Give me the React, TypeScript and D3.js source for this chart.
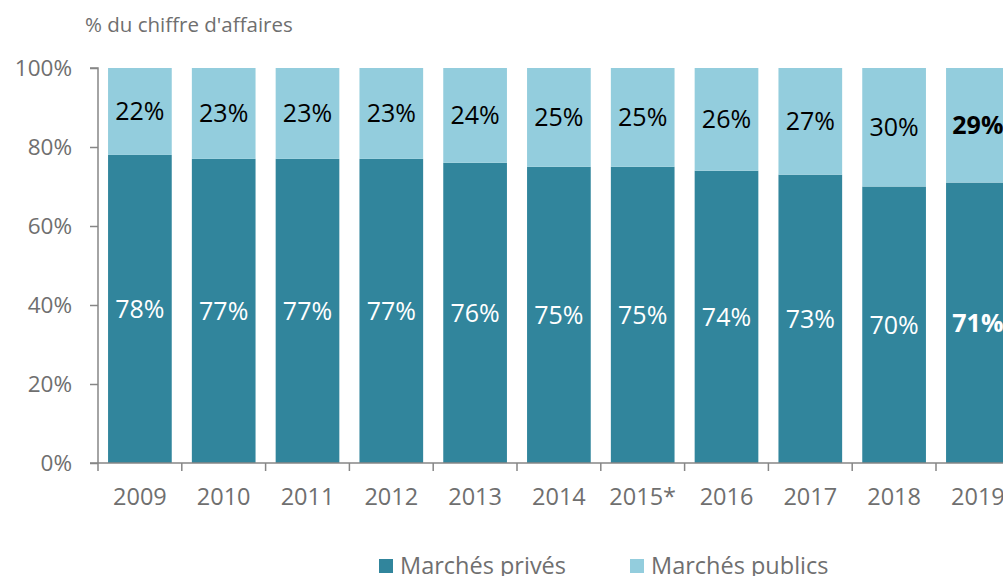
import { axisLeft, scaleBand, scaleLinear, select } from "d3";
import React, { useEffect, useRef } from "react";

const years = ["2009", "2010", "2011", "2012", "2013", "2014", "2015*", "2016", "2017", "2018", "2019"];
const prives = [78, 77, 77, 77, 76, 75, 75, 74, 73, 70, 71];
const publics = [22, 23, 23, 23, 24, 25, 25, 26, 27, 30, 29];
const yTicks = [0, 20, 40, 60, 80, 100];

const DARK = "#31859c";
const LIGHT = "#93cddd";
const GREY = "#6f6f6f";
const FONT = "'Open Sans', sans-serif";

function App() {
  const svgRef = useRef<SVGSVGElement>(null);

  useEffect(() => {
    document.body.style.margin = "0";
    const svg = select(svgRef.current);
    svg.selectAll("*").remove();

    const left = 98;
    const top = 68;
    const bottom = 463;

    const xScale = scaleBand<string>()
      .domain(years)
      .range([left, left + 83.8 * years.length])
      .paddingInner(0.24)
      .paddingOuter(0.12);
    const step = xScale.step();

    const yScale = scaleLinear().domain([0, 100]).range([bottom, top]);

    // title
    svg
      .append("text")
      .attr("x", 85)
      .attr("y", 32)
      .attr("font-family", FONT)
      .attr("font-size", 20.5)
      .attr("fill", GREY)
      .text("% du chiffre d'affaires");

    const content = svg.append("g");

    // stacked bars
    content
      .selectAll(".bar-prive")
      .data(years)
      .join("rect")
      .attr("x", (d) => xScale(d)!)
      .attr("width", xScale.bandwidth())
      .attr("y", (_, i) => yScale(prives[i]))
      .attr("height", (_, i) => bottom - yScale(prives[i]))
      .attr("fill", DARK);

    content
      .selectAll(".bar-public")
      .data(years)
      .join("rect")
      .attr("x", (d) => xScale(d)!)
      .attr("width", xScale.bandwidth())
      .attr("y", (_, i) => yScale(prives[i] + publics[i]))
      .attr("height", (_, i) => yScale(prives[i]) - yScale(prives[i] + publics[i]))
      .attr("fill", LIGHT);

    // value labels
    const last = years.length - 1;
    content
      .selectAll(".lbl-prive")
      .data(years)
      .join("text")
      .attr("x", (d) => xScale(d)! + xScale.bandwidth() / 2)
      .attr("y", (_, i) => (yScale(0) + yScale(prives[i])) / 2)
      .attr("dy", "0.36em")
      .attr("text-anchor", "middle")
      .attr("font-family", FONT)
      .attr("font-size", 25)
      .attr("font-weight", (_, i) => (i === last ? "bold" : "normal"))
      .attr("fill", "#ffffff")
      .text((_, i) => `${prives[i]}%`);

    content
      .selectAll(".lbl-public")
      .data(years)
      .join("text")
      .attr("x", (d) => xScale(d)! + xScale.bandwidth() / 2)
      .attr("y", (_, i) => (yScale(prives[i]) + yScale(prives[i] + publics[i])) / 2)
      .attr("dy", "0.36em")
      .attr("text-anchor", "middle")
      .attr("font-family", FONT)
      .attr("font-size", 25)
      .attr("font-weight", (_, i) => (i === last ? "bold" : "normal"))
      .attr("fill", "#000000")
      .text((_, i) => `${publics[i]}%`);

    // y axis
    const yAxis = axisLeft(yScale)
      .tickValues(yTicks)
      .tickSize(8)
      .tickPadding(18)
      .tickFormat((d) => `${d}%`);
    const yg = svg.append("g").attr("transform", `translate(${left},0)`).call(yAxis);
    yg.select(".domain").attr("stroke", "#868686").attr("stroke-width", 1.5).attr("d", `M-8,${top}H0V${bottom}`);
    yg.selectAll(".tick line").attr("stroke", "#868686").attr("stroke-width", 1.5);
    yg.selectAll(".tick text")
      .attr("font-family", FONT)
      .attr("font-size", 22.5)
      .attr("fill", GREY);

    // x axis
    const xg = svg.append("g");
    xg.append("line")
      .attr("x1", left - 8)
      .attr("x2", left + step * years.length)
      .attr("y1", bottom)
      .attr("y2", bottom)
      .attr("stroke", "#868686")
      .attr("stroke-width", 1.5);
    xg.selectAll(".xtick")
      .data(years)
      .join("line")
      .attr("x1", (d) => xScale(d)! - xScale.paddingOuter() * step)
      .attr("x2", (d) => xScale(d)! - xScale.paddingOuter() * step)
      .attr("y1", bottom)
      .attr("y2", bottom + 8)
      .attr("stroke", "#868686")
      .attr("stroke-width", 1.5);
    xg.selectAll(".xlabel")
      .data(years)
      .join("text")
      .attr("x", (d) => xScale(d)! + xScale.bandwidth() / 2)
      .attr("y", 505)
      .attr("text-anchor", "middle")
      .attr("font-family", FONT)
      .attr("font-size", 23.5)
      .attr("fill", GREY)
      .text((d) => d);

    // legend
    const legend = [
      { name: "Marchés privés", color: DARK, x: 379 },
      { name: "Marchés publics", color: LIGHT, x: 630 },
    ];
    const lg = svg.selectAll(".legend").data(legend).join("g").attr("transform", (d) => `translate(${d.x},558)`);
    lg.append("rect").attr("width", 14).attr("height", 14).attr("y", 1).attr("fill", (d) => d.color);
    lg.append("text")
      .attr("x", 21)
      .attr("y", 16)
      .attr("font-family", FONT)
      .attr("font-size", 23.5)
      .attr("fill", GREY)
      .text((d) => d.name);
  }, []);

  return (
    <div style={{ width: 1003, height: 576, overflow: "hidden" }}>
      <svg ref={svgRef} width={1003} height={576} style={{ display: "block" }} />
    </div>
  );
}

export default App;
